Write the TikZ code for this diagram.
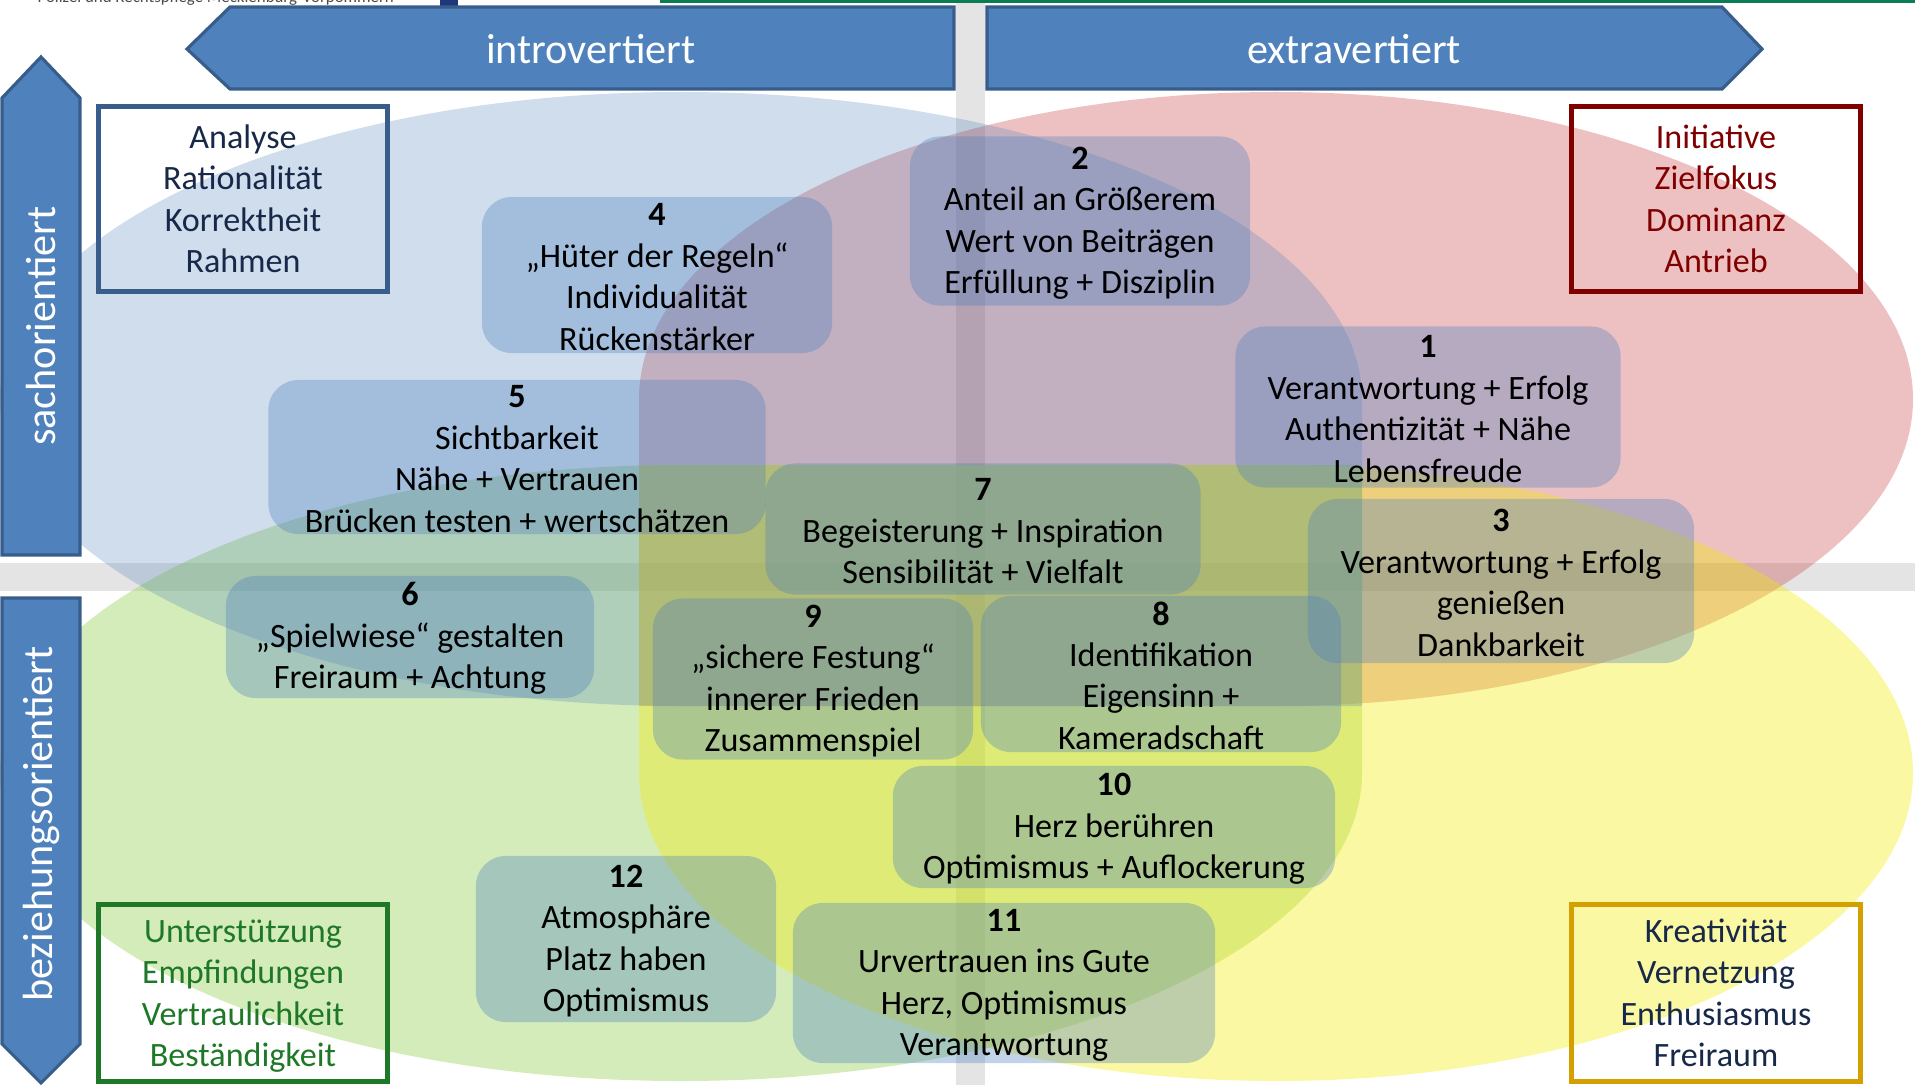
\documentclass[tikz,border=0pt]{standalone}
\usepackage{fontspec}
\setmainfont{Carlito}
\definecolor{armblue}{RGB}{79,129,189}
\definecolor{armline}{RGB}{56,93,138}
\definecolor{tearred}{RGB}{200,60,65}
\definecolor{teargreen}{RGB}{146,208,80}
\definecolor{tearyellow}{RGB}{240,235,0}
\definecolor{bandgray}{RGB}{228,228,228}
\definecolor{navytext}{RGB}{23,40,72}
\definecolor{darkredline}{RGB}{128,0,0}
\definecolor{darkgreenline}{RGB}{30,120,40}
\definecolor{goldline}{RGB}{212,160,0}
\definecolor{headgreen}{RGB}{10,125,85}
\definecolor{headnavy}{RGB}{30,55,120}
\tikzstyle{armshape}=[fill=armblue,draw=armline,line width=0.9pt,line join=miter]
\tikzstyle{armtext}=[text=white,inner sep=0pt,font=\fontsize{12}{14}\selectfont]
\tikzstyle{ideabox}=[fill=armblue,fill opacity=0.35,text opacity=1,rounded corners=0.3cm,align=center,inner sep=0pt,font=\fontsize{9.7}{11.8}\selectfont]
\tikzstyle{cornerbox}=[draw,line width=1.4pt,align=center,inner sep=0pt,minimum width=2.88cm,font=\fontsize{9.7}{11.8}\selectfont]
% bold number on top of a box, a bit of extra room above it
\newcommand{\boxnum}[1]{\rule{0pt}{7.6pt}\textbf{#1}}

\begin{document}
\begin{tikzpicture}[x=0.01cm,y=-0.01cm]
    \useasboundingbox (0,0) rectangle (1915,1085);

    % grey cross
    \fill[bandgray] (956,0) rectangle (985,1085);
    \fill[bandgray] (0,563) rectangle (1915,591);

    % teardrops, square corner towards the middle
    \fill[tearred,fill opacity=0.32] (639,706) -- (639,399)
      arc[start angle=180,end angle=450,x radius=637,y radius=307] -- cycle;
    \fill[teargreen,fill opacity=0.4] (1362,465) -- (681,465)
      arc[start angle=270,end angle=0,x radius=681,y radius=308] -- cycle;
    \fill[tearyellow,fill opacity=0.36] (639,465) -- (1276,465)
      arc[start angle=270,end angle=540,x radius=637,y radius=308] -- cycle;
    \fill[armblue,fill opacity=0.27] (1362,706) -- (681,706)
      arc[start angle=90,end angle=360,x radius=681,y radius=307] -- cycle;

    % header
    \node[anchor=base west,inner sep=0pt,text=black!70,font=\fontsize{4.8}{5}\selectfont] (kopf) at (37,3) {Polizei und Rechtspflege Mecklenburg-Vorpommern};
    \fill[headnavy] (440,0) rectangle (458,6);
    \fill[headgreen] (660,0) rectangle (1915,3);

    % arrows
    \draw[armshape] (954,7) -- (230,7) -- (187,49) -- (230,89) -- (954,89) -- cycle;
    \draw[armshape] (987,7) -- (1722,7) -- (1762,49) -- (1722,89) -- (987,89) -- cycle;
    \draw[armshape] (2,555) -- (2,98) -- (41,57) -- (80,98) -- (80,555) -- cycle;
    \draw[armshape] (2,598) -- (80,598) -- (80,1044) -- (41,1083) -- (2,1044) -- cycle;
    \node[armtext] (intro) at (591,49) {introvertiert};
    \node[armtext] (extra) at (1354,49) {extravertiert};
    \node[armtext,rotate=90] (sach) at (41,326) {sachorientiert};
    \node[armtext,rotate=90] (bez) at (41,824) {beziehungsorientiert};

    % corner boxes
    \node[cornerbox,draw=armline,text=navytext,minimum height=1.84cm] (ana) at (243,199) {Analyse\\Rationalität\\Korrektheit\\Rahmen};
    \node[cornerbox,draw=darkredline,text=darkredline,minimum height=1.84cm] (ini) at (1716,199) {Initiative\\Zielfokus\\Dominanz\\Antrieb};
    \node[cornerbox,draw=darkgreenline,text=darkgreenline,minimum height=1.76cm] (unt) at (243,993) {\rule{0pt}{8.2pt}Unterstützung\\Empfindungen\\Vertraulichkeit\\Beständigkeit};
    \node[cornerbox,draw=goldline,text=navytext,minimum height=1.76cm] (kre) at (1716,993) {Kreativität\\Vernetzung\\Enthusiasmus\\Freiraum};

    % numbered boxes
    \node[ideabox,minimum width=3.50cm,minimum height=1.56cm] (b4) at (657,275) {\boxnum{4}\\„Hüter der Regeln“\\Individualität\\Rückenstärker};
    \node[ideabox,minimum width=3.40cm,minimum height=1.69cm] (b2) at (1080,221) {\boxnum{2}\\Anteil an Größerem\\Wert von Beiträgen\\Erfüllung + Disziplin};
    \node[ideabox,minimum width=4.97cm,minimum height=1.54cm] (b5) at (517,457) {\boxnum{5}\\Sichtbarkeit\\Nähe + Vertrauen\\Brücken testen + wertschätzen};
    \node[ideabox,minimum width=3.85cm,minimum height=1.61cm] (b1) at (1428,407) {\boxnum{1}\\Verantwortung + Erfolg\\Authentizität + Nähe\\Lebensfreude};
    \node[ideabox,minimum width=4.35cm,minimum height=1.31cm] (b7) at (983,529) {\boxnum{7}\\Begeisterung + Inspiration\\Sensibilität + Vielfalt};
    \node[ideabox,minimum width=3.86cm,minimum height=1.64cm] (b3) at (1501,581) {\boxnum{3}\\Verantwortung + Erfolg\\genießen\\Dankbarkeit};
    \node[ideabox,minimum width=3.68cm,minimum height=1.22cm] (b6) at (410,637) {\boxnum{6}\\„Spielwiese“ gestalten\\Freiraum + Achtung};
    \node[ideabox,minimum width=3.20cm,minimum height=1.61cm] (b9) at (813,679) {\boxnum{9}\\„sichere Festung“\\innerer Frieden\\Zusammenspiel};
    \node[ideabox,minimum width=3.60cm,minimum height=1.56cm] (b8) at (1161,674) {\boxnum{8}\\Identifikation\\Eigensinn +\\Kameradschaft};
    \node[ideabox,minimum width=4.42cm,minimum height=1.22cm] (b10) at (1114,827) {\boxnum{10}\\Herz berühren\\Optimismus + Auflockerung};
    \node[ideabox,minimum width=3.00cm,minimum height=1.66cm] (b12) at (626,939) {\boxnum{12}\\Atmosphäre\\Platz haben\\Optimismus};
    \node[ideabox,minimum width=4.22cm,minimum height=1.60cm] (b11) at (1004,983) {\boxnum{11}\\Urvertrauen ins Gute\\Herz, Optimismus\\Verantwortung};
\end{tikzpicture}
\end{document}
